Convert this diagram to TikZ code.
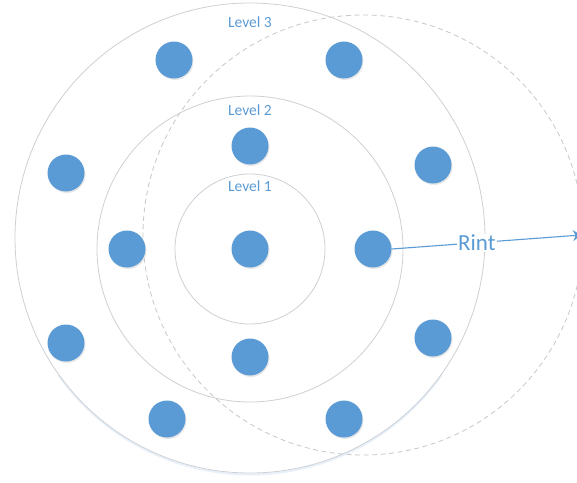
\documentclass[tikz,border=0pt]{standalone}
\usepackage{fontspec}
\setmainfont{Carlito}
\usetikzlibrary{arrows.meta,shadows}
\definecolor{dotblue}{HTML}{5B9BD5}
\definecolor{ringgray}{HTML}{CDD0D4}
\definecolor{dashgray}{HTML}{C8C8C8}
\definecolor{txtblue}{HTML}{5B9BD5}
\begin{document}
\begin{tikzpicture}[x=1pt,y=-1pt,
  ring/.style={draw=ringgray,line width=0.8pt},
  sensor/.style={circle,fill=dotblue,minimum size=37pt,inner sep=0pt,
    drop shadow={opacity=0.18,shadow xshift=1pt,shadow yshift=-1.5pt}},
  lvl/.style={text=txtblue,font=\fontsize{15.5}{16}\selectfont,inner sep=0pt},
  radius arrow/.style={draw=dotblue,line width=1.1pt,-{Stealth[length=8pt,width=11pt]}}]
\useasboundingbox (0,0) rectangle (577,482);
\clip (0,0) rectangle (577,482);
\fill[white] (0,0) rectangle (577,482);

% concentric level rings, the outer one with a soft shadow along its lower edge
\draw[draw=dotblue!30,line width=2pt,opacity=0.45] (250,240.5) ++(35:234) arc[start angle=35,end angle=145,radius=234];
\draw[ring] (250,238) circle (235);
\draw[ring] (250,249) circle (153);
\draw[ring] (250,249) circle (75);
% interference range
\draw[draw=dashgray,line width=0.8pt,dash pattern=on 5pt off 3.5pt] (363,235) circle (220);

% level labels
\node[lvl] (l3) at (250,22) {Level 3};
\node[lvl] (l2) at (250,110) {Level 2};
\node[lvl] (l1) at (250,186) {Level 1};

% sensor nodes
\node[sensor] (c)   at (250,249) {};
\node[sensor] (n2t) at (250,146) {};
\node[sensor] (n2b) at (250,357) {};
\node[sensor] (n2l) at (127,249) {};
\node[sensor] (n2r) at (373,249) {};
\node[sensor] (n3a) at (174,60) {};
\node[sensor] (n3b) at (344,60) {};
\node[sensor] (n3c) at (433,165) {};
\node[sensor] (n3d) at (433,338) {};
\node[sensor] (n3e) at (344,419) {};
\node[sensor] (n3f) at (167,419) {};
\node[sensor] (n3g) at (66,173) {};
\node[sensor] (n3h) at (66,343) {};

% interference radius
\coordinate (rend) at (581,235);
\draw[radius arrow] (n2r.east) -- node[pos=0.45,fill=white,inner sep=1pt,text=txtblue,font=\fontsize{23}{24}\selectfont] (rint) {Rint} (rend);
\end{tikzpicture}
\end{document}
